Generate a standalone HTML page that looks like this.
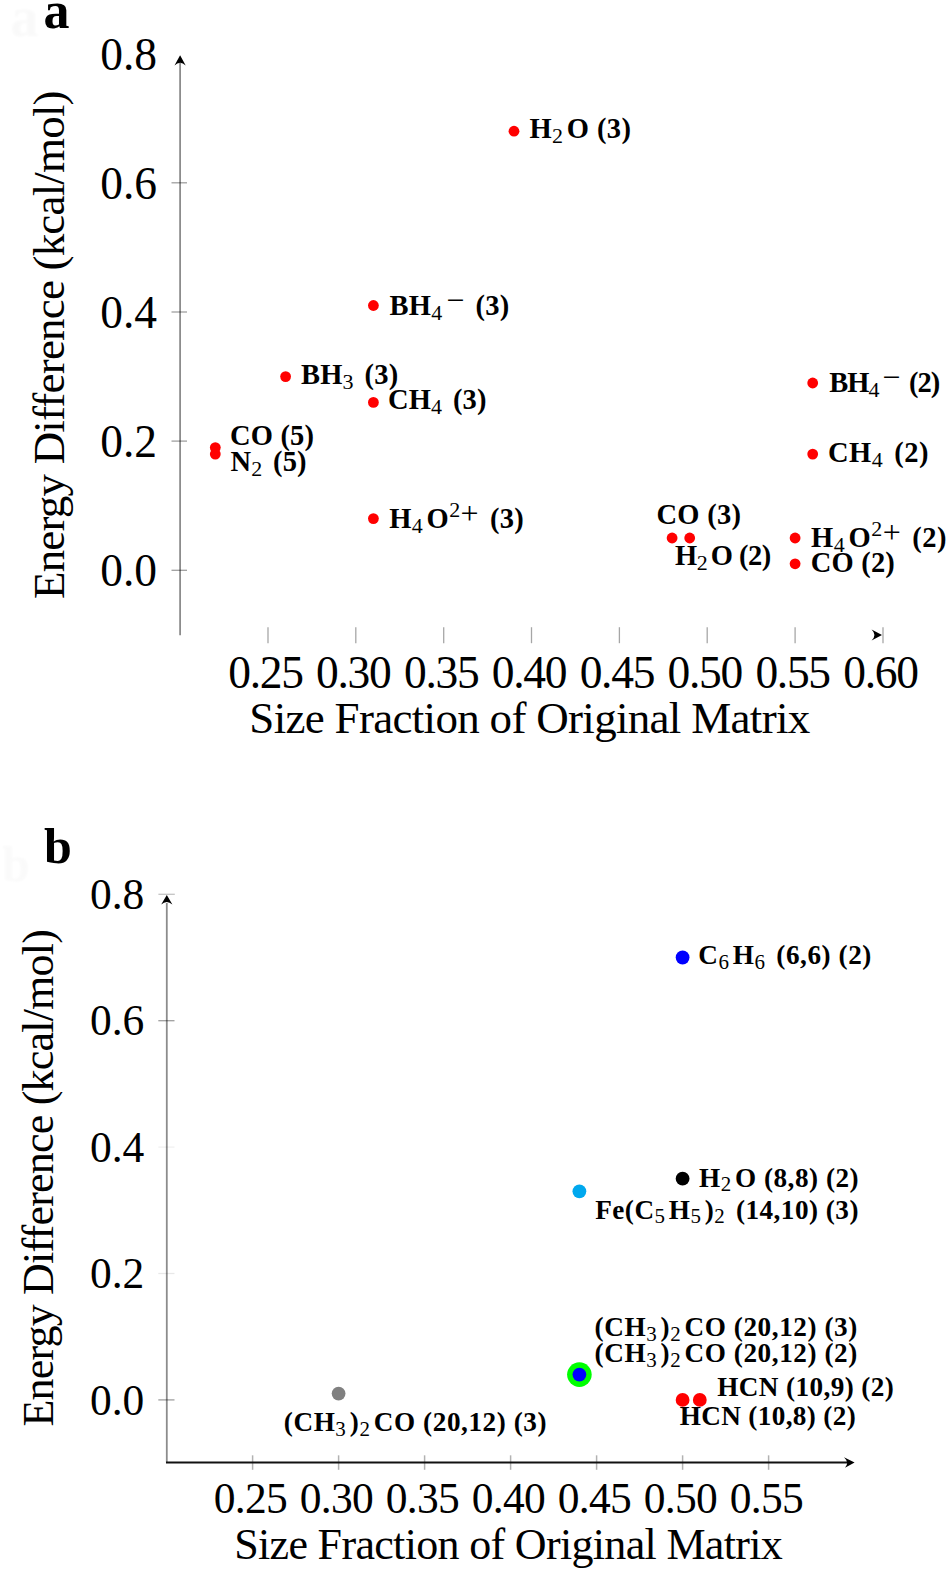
<!DOCTYPE html><html><head><meta charset="utf-8"><style>
html,body{margin:0;padding:0;background:#fff;width:952px;height:1572px;overflow:hidden}
svg{position:absolute;left:0;top:0;display:block}
text{font-family:"Liberation Serif","Times New Roman",serif}
.lab{font-weight:bold;font-size:28.50px;fill:#000}
.s{font-weight:normal;font-size:0.7719em}
.o{font-weight:normal;font-size:1.1228em}
.labb{font-size:27.20px}
.tk{font-size:45.50px;fill:#000}
.tkx{letter-spacing:-1.30px}
.ax{font-size:45.00px;fill:#000}
.pl{font-weight:bold;font-size:50px;fill:#000}
</style></head><body>
<svg width="952" height="1572" viewBox="0 0 952 1572">
<defs><filter id="gb" x="-20%" y="-20%" width="140%" height="140%"><feGaussianBlur stdDeviation="1.2"/></filter></defs>
<text x="10.5" y="36" class="pl" style="fill:#f9f9f9;font-size:56px" filter="url(#gb)">a</text>
<text x="43.4" y="27.9" class="pl" style="font-size:52px">a</text>
<line x1="180.1" y1="63" x2="180.1" y2="635.3" stroke="#000" stroke-opacity="0.45" stroke-width="1.8"/><path d="M180.1,55.3 L185.7,65.6 Q180.1,59.8 174.5,65.6 Z" fill="#000"/><line x1="171.5" y1="570.3" x2="187" y2="570.3" stroke="#000" stroke-opacity="0.38" stroke-width="1.3"/><line x1="171.5" y1="441.1" x2="187" y2="441.1" stroke="#000" stroke-opacity="0.38" stroke-width="1.3"/><line x1="171.5" y1="312.0" x2="187" y2="312.0" stroke="#000" stroke-opacity="0.38" stroke-width="1.3"/><line x1="171.5" y1="182.8" x2="187" y2="182.8" stroke="#000" stroke-opacity="0.38" stroke-width="1.3"/><line x1="268.0" y1="627.2" x2="268.0" y2="643.2" stroke="#000" stroke-opacity="0.35" stroke-width="1.3"/><line x1="355.8" y1="627.2" x2="355.8" y2="643.2" stroke="#000" stroke-opacity="0.35" stroke-width="1.3"/><line x1="443.7" y1="627.2" x2="443.7" y2="643.2" stroke="#000" stroke-opacity="0.35" stroke-width="1.3"/><line x1="531.5" y1="627.2" x2="531.5" y2="643.2" stroke="#000" stroke-opacity="0.35" stroke-width="1.3"/><line x1="619.4" y1="627.2" x2="619.4" y2="643.2" stroke="#000" stroke-opacity="0.35" stroke-width="1.3"/><line x1="707.2" y1="627.2" x2="707.2" y2="643.2" stroke="#000" stroke-opacity="0.35" stroke-width="1.3"/><line x1="795.1" y1="627.2" x2="795.1" y2="643.2" stroke="#000" stroke-opacity="0.35" stroke-width="1.3"/><line x1="883.0" y1="627.2" x2="883.0" y2="643.2" stroke="#000" stroke-opacity="0.35" stroke-width="1.3"/><path d="M882,635.1 L871.6,629.6 Q877.3,635.1 871.6,640.6 Z" fill="#000"/>
<text x="157" y="586.3" class="tk" text-anchor="end">0.0</text>
<text x="157" y="457.1" class="tk" text-anchor="end">0.2</text>
<text x="157" y="328.0" class="tk" text-anchor="end">0.4</text>
<text x="157" y="198.8" class="tk" text-anchor="end">0.6</text>
<text x="157" y="69.7" class="tk" text-anchor="end">0.8</text>
<text x="265.5" y="687.5" class="tk tkx" text-anchor="middle">0.25</text>
<text x="353.3" y="687.5" class="tk tkx" text-anchor="middle">0.30</text>
<text x="441.2" y="687.5" class="tk tkx" text-anchor="middle">0.35</text>
<text x="529.0" y="687.5" class="tk tkx" text-anchor="middle">0.40</text>
<text x="616.9" y="687.5" class="tk tkx" text-anchor="middle">0.45</text>
<text x="704.8" y="687.5" class="tk tkx" text-anchor="middle">0.50</text>
<text x="792.6" y="687.5" class="tk tkx" text-anchor="middle">0.55</text>
<text x="880.5" y="687.5" class="tk tkx" text-anchor="middle">0.60</text>
<text x="249.30" y="733" class="ax" textLength="560.97" lengthAdjust="spacing">Size Fraction of Original Matrix</text>
<text transform="translate(63.9,598.00) rotate(-90)" x="-1.00" y="0" class="ax" textLength="508.61" lengthAdjust="spacing">Energy Difference (kcal/mol)</text>
<text x="529.40" y="137.9" class="lab" textLength="101.60" lengthAdjust="spacing"><tspan>H</tspan><tspan class="s" dy="5.00">2</tspan><tspan dy="-5.00" dx="3.50">O (3)</tspan></text>
<text x="389.60" y="315.3" class="lab" textLength="119.59" lengthAdjust="spacing"><tspan>BH</tspan><tspan class="s" dy="5.00">4</tspan><tspan class="o" dy="-9.30" dx="3.70">−</tspan><tspan dy="4.30" dx="3.50"> (3)</tspan></text>
<text x="301.00" y="383.5" class="lab" textLength="97.15" lengthAdjust="spacing"><tspan>BH</tspan><tspan class="s" dy="5.00">3</tspan><tspan dy="-5.00" dx="3.50"> (3)</tspan></text>
<text x="388.00" y="409.4" class="lab" textLength="98.51" lengthAdjust="spacing"><tspan>CH</tspan><tspan class="s" dy="5.00">4</tspan><tspan dy="-5.00" dx="3.50"> (3)</tspan></text>
<text x="230.00" y="444.6" class="lab" textLength="84.01" lengthAdjust="spacing"><tspan>CO (5)</tspan></text>
<text x="230.60" y="471.0" class="lab" textLength="75.95" lengthAdjust="spacing"><tspan>N</tspan><tspan class="s" dy="5.00">2</tspan><tspan dy="-5.00" dx="3.50"> (5)</tspan></text>
<text x="389.20" y="528.1" class="lab" textLength="134.65" lengthAdjust="spacing"><tspan>H</tspan><tspan class="s" dy="5.00">4</tspan><tspan dy="-5.00" dx="3.50">O</tspan><tspan class="s" dy="-10.80">2</tspan><tspan class="o" dy="6.50">+</tspan><tspan dy="4.30" dx="3.50"> (3)</tspan></text>
<text x="656.50" y="524.3" class="lab" textLength="84.51" lengthAdjust="spacing"><tspan>CO (3)</tspan></text>
<text x="675.00" y="565.4" class="lab" textLength="96.20" lengthAdjust="spacing"><tspan>H</tspan><tspan class="s" dy="5.00">2</tspan><tspan dy="-5.00" dx="3.50">O (2)</tspan></text>
<text x="829.20" y="392.0" class="lab" textLength="110.99" lengthAdjust="spacing"><tspan>BH</tspan><tspan class="s" dy="5.00">4</tspan><tspan class="o" dy="-9.30" dx="3.70">−</tspan><tspan dy="4.30" dx="3.50"> (2)</tspan></text>
<text x="828.00" y="461.8" class="lab" textLength="100.61" lengthAdjust="spacing"><tspan>CH</tspan><tspan class="s" dy="5.00">4</tspan><tspan dy="-5.00" dx="3.50"> (2)</tspan></text>
<text x="811.00" y="547.0" class="lab" textLength="135.55" lengthAdjust="spacing"><tspan>H</tspan><tspan class="s" dy="5.00">4</tspan><tspan dy="-5.00" dx="3.50">O</tspan><tspan class="s" dy="-10.80">2</tspan><tspan class="o" dy="6.50">+</tspan><tspan dy="4.30" dx="3.50"> (2)</tspan></text>
<text x="810.80" y="572.3" class="lab" textLength="84.01" lengthAdjust="spacing"><tspan>CO (2)</tspan></text>
<circle cx="514.0" cy="131.2" r="5.4" fill="#ff0000"/><circle cx="373.4" cy="305.5" r="5.4" fill="#ff0000"/><circle cx="285.6" cy="376.6" r="5.4" fill="#ff0000"/><circle cx="373.4" cy="402.4" r="5.4" fill="#ff0000"/><circle cx="215.3" cy="447.6" r="5.4" fill="#ff0000"/><circle cx="215.3" cy="454.1" r="5.4" fill="#ff0000"/><circle cx="373.4" cy="518.6" r="5.4" fill="#ff0000"/><circle cx="672.1" cy="538.0" r="5.4" fill="#ff0000"/><circle cx="689.7" cy="538.0" r="5.4" fill="#ff0000"/><circle cx="812.7" cy="383.0" r="5.4" fill="#ff0000"/><circle cx="812.7" cy="454.1" r="5.4" fill="#ff0000"/><circle cx="795.1" cy="538.0" r="5.4" fill="#ff0000"/><circle cx="795.1" cy="563.8" r="5.4" fill="#ff0000"/>
<text x="2" y="881" class="pl" style="fill:#fafafa" filter="url(#gb)">b</text>
<text x="44" y="862.5" class="pl">b</text>
<line x1="166.8" y1="903" x2="166.8" y2="1462.5" stroke="#000" stroke-opacity="0.45" stroke-width="1.8"/><line x1="158.4" y1="894.3" x2="174.8" y2="894.3" stroke="#000" stroke-opacity="0.24" stroke-width="1.3"/><path d="M166.8,894.9 L172.4,904.6 Q166.8,899.2 161.2,904.6 Z" fill="#000"/><line x1="158.3" y1="1399.9" x2="174.5" y2="1399.9" stroke="#000" stroke-opacity="0.38" stroke-width="1.3"/><line x1="158.3" y1="1273.5" x2="174.5" y2="1273.5" stroke="#000" stroke-opacity="0.09" stroke-width="1.3"/><line x1="158.3" y1="1147.1" x2="174.5" y2="1147.1" stroke="#000" stroke-opacity="0.06" stroke-width="1.3"/><line x1="158.3" y1="1020.7" x2="174.5" y2="1020.7" stroke="#000" stroke-opacity="0.38" stroke-width="1.3"/><line x1="252.6" y1="1455.3" x2="252.6" y2="1469.8" stroke="#000" stroke-opacity="0.30" stroke-width="1.5"/><line x1="338.6" y1="1455.3" x2="338.6" y2="1469.8" stroke="#000" stroke-opacity="0.30" stroke-width="1.5"/><line x1="424.6" y1="1455.3" x2="424.6" y2="1469.8" stroke="#000" stroke-opacity="0.30" stroke-width="1.5"/><line x1="510.6" y1="1455.3" x2="510.6" y2="1469.8" stroke="#000" stroke-opacity="0.30" stroke-width="1.5"/><line x1="596.6" y1="1455.3" x2="596.6" y2="1469.8" stroke="#000" stroke-opacity="0.30" stroke-width="1.5"/><line x1="682.6" y1="1455.3" x2="682.6" y2="1469.8" stroke="#000" stroke-opacity="0.30" stroke-width="1.5"/><line x1="768.6" y1="1455.3" x2="768.6" y2="1469.8" stroke="#000" stroke-opacity="0.30" stroke-width="1.5"/><line x1="166" y1="1462.5" x2="849" y2="1462.5" stroke="#111" stroke-width="2.1"/><path d="M854.6,1462.5 L844,1457.2 Q849.6,1462.5 845,1467.7 Z" fill="#000"/>
<text x="144.3" y="1414.5" class="tk" style="font-size:43.5px" text-anchor="end">0.0</text>
<text x="144.3" y="1288.1" class="tk" style="font-size:43.5px" text-anchor="end">0.2</text>
<text x="144.3" y="1161.7" class="tk" style="font-size:43.5px" text-anchor="end">0.4</text>
<text x="144.3" y="1035.3" class="tk" style="font-size:43.5px" text-anchor="end">0.6</text>
<text x="144.3" y="908.9" class="tk" style="font-size:43.5px" text-anchor="end">0.8</text>
<text x="250.4" y="1513.4" class="tk" style="font-size:43.5px;letter-spacing:-0.7px" text-anchor="middle">0.25</text>
<text x="336.4" y="1513.4" class="tk" style="font-size:43.5px;letter-spacing:-0.7px" text-anchor="middle">0.30</text>
<text x="422.4" y="1513.4" class="tk" style="font-size:43.5px;letter-spacing:-0.7px" text-anchor="middle">0.35</text>
<text x="508.4" y="1513.4" class="tk" style="font-size:43.5px;letter-spacing:-0.7px" text-anchor="middle">0.40</text>
<text x="594.4" y="1513.4" class="tk" style="font-size:43.5px;letter-spacing:-0.7px" text-anchor="middle">0.45</text>
<text x="680.4" y="1513.4" class="tk" style="font-size:43.5px;letter-spacing:-0.7px" text-anchor="middle">0.50</text>
<text x="766.4" y="1513.4" class="tk" style="font-size:43.5px;letter-spacing:-0.7px" text-anchor="middle">0.55</text>
<text x="234.20" y="1558.8" class="ax" style="font-size:44px" textLength="548.62" lengthAdjust="spacing">Size Fraction of Original Matrix</text>
<text transform="translate(53.2,1425.20) rotate(-90)" x="-1.40" y="0" class="ax" style="font-size:44px" textLength="497.41" lengthAdjust="spacing">Energy Difference (kcal/mol)</text>
<text x="698.20" y="964.1" class="lab labb" textLength="173.19" lengthAdjust="spacing"><tspan>C</tspan><tspan class="s" dy="4.77">6</tspan><tspan dy="-4.77" dx="3.34">H</tspan><tspan class="s" dy="4.77">6</tspan><tspan dy="-4.77" dx="3.34"> (6,6) (2)</tspan></text>
<text x="699.00" y="1186.6" class="lab labb" textLength="159.60" lengthAdjust="spacing"><tspan>H</tspan><tspan class="s" dy="4.77">2</tspan><tspan dy="-4.77" dx="3.34">O (8,8) (2)</tspan></text>
<text x="595.20" y="1218.6" class="lab labb" textLength="263.27" lengthAdjust="spacing"><tspan>Fe(C</tspan><tspan class="s" dy="4.77">5</tspan><tspan dy="-4.77" dx="3.34">H</tspan><tspan class="s" dy="4.77">5</tspan><tspan dy="-4.77" dx="3.34">)</tspan><tspan class="s" dy="4.77">2</tspan><tspan dy="-4.77" dx="3.34"> (14,10) (3)</tspan></text>
<text x="594.60" y="1336.1" class="lab labb" textLength="262.67" lengthAdjust="spacing"><tspan>(CH</tspan><tspan class="s" dy="4.77">3</tspan><tspan dy="-4.77" dx="3.34">)</tspan><tspan class="s" dy="4.77">2</tspan><tspan dy="-4.77" dx="3.34">CO (20,12) (3)</tspan></text>
<text x="594.60" y="1361.8" class="lab labb" textLength="262.67" lengthAdjust="spacing"><tspan>(CH</tspan><tspan class="s" dy="4.77">3</tspan><tspan dy="-4.77" dx="3.34">)</tspan><tspan class="s" dy="4.77">2</tspan><tspan dy="-4.77" dx="3.34">CO (20,12) (2)</tspan></text>
<text x="717.20" y="1396.0" class="lab labb" textLength="176.61" lengthAdjust="spacing"><tspan>HCN (10,9) (2)</tspan></text>
<text x="679.70" y="1424.6" class="lab labb" textLength="176.01" lengthAdjust="spacing"><tspan>HCN (10,8) (2)</tspan></text>
<text x="283.80" y="1431.4" class="lab labb" textLength="262.77" lengthAdjust="spacing"><tspan>(CH</tspan><tspan class="s" dy="4.77">3</tspan><tspan dy="-4.77" dx="3.34">)</tspan><tspan class="s" dy="4.77">2</tspan><tspan dy="-4.77" dx="3.34">CO (20,12) (3)</tspan></text>
<circle cx="682.6" cy="957.5" r="6.9" fill="#0000ff"/><circle cx="682.6" cy="1178.7" r="6.9" fill="#000"/><circle cx="579.4" cy="1191.3" r="6.9" fill="#00a8ee"/><circle cx="579.4" cy="1374.6" r="12.3" fill="#00ff00"/><circle cx="579.4" cy="1374.6" r="6.9" fill="#0000ff"/><circle cx="682.6" cy="1399.9" r="6.9" fill="#ff0000"/><circle cx="699.8" cy="1399.9" r="6.9" fill="#ff0000"/><circle cx="338.6" cy="1393.6" r="6.9" fill="#808080"/>
</svg></body></html>
